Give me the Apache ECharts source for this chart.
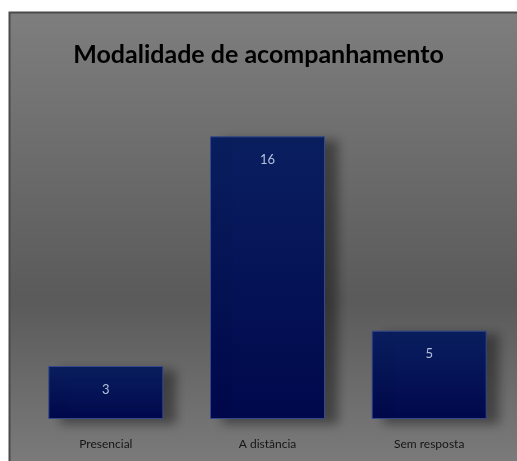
<!DOCTYPE html>
<html>
<head>
<meta charset="utf-8">
<script src="https://cdn.jsdelivr.net/npm/echarts@6/dist/echarts.min.js"></script>
<style>
  html, body { margin: 0; padding: 0; background: #fff; }
  #chart { width: 517px; height: 461px; }
</style>
</head>
<body>
<div id="chart"></div>
<script>
// dados do gráfico
const categorias = ["Presencial", "A distância", "Sem resposta"];
const valores = [3, 16, 5];

const chart = echarts.init(document.getElementById("chart"));

chart.setOption({
  backgroundColor: "#ffffff",
  title: {
    text: "Modalidade de acompanhamento",
    left: "center",
    top: 37,
    textStyle: {
      fontFamily: "Lato, sans-serif",
      fontWeight: "bold",
      fontSize: 25,
      color: "#000"
    }
  },
  graphic: [
    {
      type: "rect",
      z: -10,
      shape: { x: 9, y: 12, width: 508, height: 449 },
      style: {
        fill: {
          type: "linear", x: 0, y: 0, x2: 0, y2: 1,
          colorStops: [
            { offset: 0, color: "#7e7e7e" },
            { offset: 0.64, color: "#5a5a5a" },
            { offset: 1, color: "#7a7a7a" }
          ]
        }
      }
    },
    {
      type: "polyline",
      z: -9,
      shape: { points: [[9.5, 461], [9.5, 12.5], [517, 12.5]] },
      style: { stroke: "#4a4a4a", lineWidth: 2, fill: null }
    }
  ],
  grid: { left: 25, right: 7, top: 101, bottom: 42 },
  xAxis: {
    type: "category",
    data: categorias,
    axisLine: { show: false },
    axisTick: { show: false },
    axisLabel: {
      margin: 19,
      fontFamily: "Lato, sans-serif",
      fontSize: 12,
      color: "#151515"
    }
  },
  yAxis: {
    type: "value",
    min: 0,
    max: 18,
    show: false,
    splitLine: { show: false }
  },
  series: [
    {
      type: "bar",
      data: valores,
      barWidth: 115,
      itemStyle: {
        color: {
          type: "linear", x: 0, y: 0, x2: 0, y2: 1,
          colorStops: [
            { offset: 0, color: "#0a1f60" },
            { offset: 1, color: "#00084c" }
          ]
        },
        borderColor: "#34488a",
        borderWidth: 1,
        shadowColor: "rgba(0,0,0,0.4)",
        shadowBlur: 10,
        shadowOffsetX: 12,
        shadowOffsetY: 4
      },
      label: {
        show: true,
        position: "insideTop",
        distance: 17,
        fontFamily: "Lato, sans-serif",
        fontSize: 13,
        color: "#b4c0dc"
      }
    }
  ]
});
</script>
</body>
</html>
